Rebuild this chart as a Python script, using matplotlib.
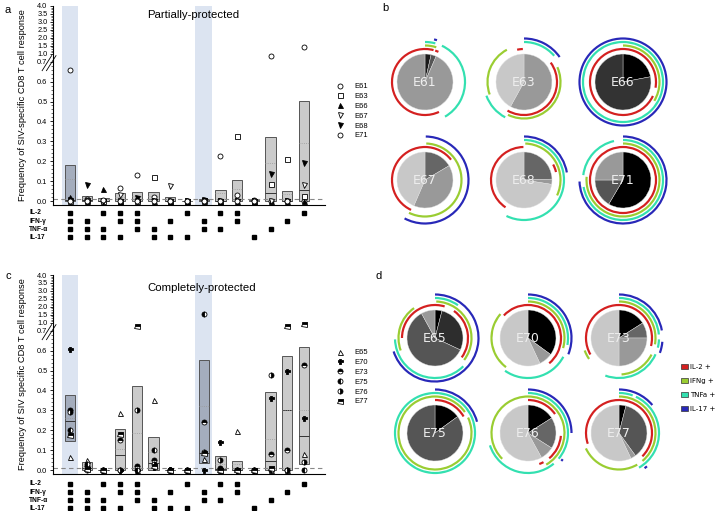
import numpy as np
import matplotlib
matplotlib.use('Agg')
import matplotlib.pyplot as plt
import matplotlib.transforms as mtransforms
from matplotlib.patches import Wedge, Patch

plt.rcParams['font.family'] = ['Liberation Sans', 'DejaVu Sans']

# ---------------- data: cytokine combinations (columns 1..15) ----------------
combos = np.arange(1, 16)
cytokines = ['IL-2', 'IFN-\u03b3', 'TNF-\u03b1', 'IL-17']
il2 = [1, 0, 1, 1, 1, 0, 0, 1, 0, 1, 1, 0, 0, 0, 1]
ifng = [1, 1, 0, 1, 1, 0, 1, 0, 1, 0, 1, 0, 0, 1, 0]
tnfa = [1, 1, 1, 0, 1, 1, 0, 0, 1, 1, 0, 0, 1, 0, 0]
il17 = [1, 1, 1, 1, 0, 1, 1, 1, 0, 0, 0, 1, 0, 0, 0]
highlight = [1, 9]

# panel a: partially-protected animals
a_names = ['E61', 'E63', 'E66', 'E67', 'E68', 'E71']
E61 = [0.657, 0.01, 0.0, 0.065, 0.13, 0.02, 0.0, 0.0, 0.005, 0.225, 0.03, 0.005, 0.0, 0.0, 0.0]
E63 = [0.0, 0.005, 0.0, 0.0, 0.0, 0.12, 0.0, 0.0, 0.005, 0.0, 0.325, 0.0, 0.085, 0.21, 0.025]
E66 = [0.02, 0.0, 0.06, 0.0, 0.01, 0.0, 0.0, 0.0, 0.0, 0.0, 0.0, 0.0, 0.0, 0.0, 0.0]
E67 = [0.0, 0.0, 0.0, 0.028, 0.0, 0.0, 0.075, 0.0, 0.0, 0.0, 0.0, 0.0, 0.0, 0.0, 0.08]
E68 = [0.005, 0.078, 0.0, 0.0, 0.015, 0.0, 0.0, 0.0, 0.005, 0.0, 0.0, 0.0, 0.135, 0.0, 0.19]
E71 = [0.0, 0.0, 0.005, 0.0, 0.0, 0.0, 0.0, 0.0, 0.0, 0.0, 0.0, 0.0, 0.92, 0.0, 1.4]
a_lo = [0.0] * 15
a_hi = [0.18, 0.025, 0.015, 0.04, 0.045, 0.045, 0.02, 0.0, 0.01, 0.055, 0.105, 0.005, 0.32, 0.05, 0.505]
a_med = [0.005, 0.003, 0.0, 0.01, 0.008, 0.01, 0.0, 0.0, 0.003, 0.0, 0.01, 0.0, 0.04, 0.0, 0.055]
a_mean = [0.11, 0.015, 0.011, 0.02, 0.025, 0.023, 0.012, 0.0, 0.003, 0.04, 0.06, 0.002, 0.19, 0.035, 0.29]

# panel c: completely-protected animals
c_names = ['E65', 'E70', 'E73', 'E75', 'E76', 'E77']
E65 = [0.065, 0.05, 0.0, 0.285, 0.0, 0.35, 0.0, 0.0, 0.055, 0.0, 0.195, 0.0, 0.0, 0.0, 0.08]
E70 = [0.61, 0.01, 0.0, 0.0, 0.0, 0.015, 0.005, 0.0, 0.0, 0.14, 0.0, 0.0, 0.36, 0.50, 0.26]
E73 = [0.30, 0.02, 0.0, 0.15, 0.02, 0.05, 0.0, 0.0, 0.24, 0.01, 0.0, 0.0, 0.08, 0.10, 0.53]
E75 = [0.20, 0.03, 0.0, 0.0, 0.0, 0.10, 0.0, 0.0, 1.55, 0.0, 0.0, 0.0, 0.0, 0.0, 0.0]
E76 = [0.29, 0.0, 0.0, 0.0, 0.30, 0.03, 0.0, 0.0, 0.09, 0.05, 0.0, 0.0, 0.48, 0.0, 0.04]
E77 = [0.175, 0.005, 0.0, 0.18, 0.86, 0.02, 0.0, 0.0, 0.085, 0.0, 0.0, 0.0, 0.01, 0.86, 0.94]
c_lo = [0.145, 0.0, 0.0, 0.0, 0.0, 0.0, 0.0, 0.0, 0.035, 0.0, 0.0, 0.0, 0.0, 0.0, 0.03]
c_hi = [0.375, 0.04, 0.0, 0.205, 0.42, 0.165, 0.0, 0.0, 0.555, 0.07, 0.045, 0.0, 0.39, 0.575, 0.62]
c_med = [0.245, 0.01, 0.0, 0.075, 0.01, 0.035, 0.0, 0.0, 0.085, 0.005, 0.0, 0.0, 0.045, 0.30, 0.17]
c_mean = [0.26, 0.02, 0.0, 0.105, 0.185, 0.09, 0.0, 0.0, 0.32, 0.03, 0.03, 0.0, 0.155, 0.30, 0.30]

threshold = 0.012

# pies (slice fractions clockwise from 12 o'clock) and arcs (start, end in degrees clockwise)
b_names = ['E61', 'E63', 'E66', 'E67', 'E68', 'E71']
b_fracs = [[0.035, 0.03, 0.935], [0.58, 0.42], [0.22, 0.78],
           [0.165, 0.40, 0.435], [0.245, 0.03, 0.725], [0.585, 0.165, 0.25]]
b_shades = [['#1a1a1a', '#555555', '#999999'], ['#999999', '#c8c8c8'], ['#000000', '#333333'],
            ['#666666', '#999999', '#c8c8c8'], ['#666666', '#999999', '#c8c8c8'],
            ['#000000', '#555555', '#999999']]
b_il2 = [[(155, 375), (18, 24)], [(348, 358), (54, 210)], [(0, 100), (115, 360)],
         [(205, 412)], [(214, 359), (62, 76)], [(0, 360)]]
b_ifng = [[(0, 18)], [(66, 206), (250, 332)], [(0, 121)], [(2, 206)], [(2, 115)], [(0, 275)]]
b_tnfa = [[(0, 15), (25, 150)], [(0, 49), (208, 250)], [(0, 360)], [], [(0, 206)], [(0, 260), (277, 347)]]
b_il17 = [[(12, 16)], [(0, 55)], [(0, 360)], [(1, 208)], [(0, 80)], [(0, 268)]]

d_names = ['E65', 'E70', 'E73', 'E75', 'E76', 'E77']
d_fracs = [[0.04, 0.28, 0.60, 0.08], [0.35, 0.08, 0.57], [0.16, 0.09, 0.25, 0.50],
           [0.15, 0.85], [0.16, 0.18, 0.08, 0.58], [0.04, 0.36, 0.03, 0.57]]
d_shades = [['#000000', '#2d2d2d', '#555555', '#999999'], ['#000000', '#999999', '#c8c8c8'],
            ['#000000', '#666666', '#999999', '#c8c8c8'], ['#000000', '#555555'],
            ['#000000', '#666666', '#999999', '#c8c8c8'], ['#000000', '#555555', '#999999', '#c8c8c8']]
d_il2 = [[(270, 377), (35, 126)], [(313, 500)], [(240, 464)], [(0, 60)],
         [(0, 55), (95, 140), (152, 160)], [(251, 495)]]
d_ifng = [[(250, 325), (2, 127)], [(217, 311), (0, 106)], [(0, 100), (117, 176), (235, 250)],
          [(0, 55), (65, 360)], [(0, 150), (225, 360)], [(0, 140), (150, 245)]]
d_tnfa = [[(0, 35), (135, 268)], [(0, 100), (118, 215)], [(0, 85), (92, 104), (114, 200)],
          [(0, 360)], [(0, 130), (140, 252)], [(0, 20), (25, 150)]]
d_il17 = [[(0, 252)], [(0, 112)], [(0, 80), (95, 110)], [(0, 75)], [(0, 90), (127, 130)], [(0, 50), (140, 144)]]

ring_colors = {'IL-2 +': '#d42020', 'IFNg +': '#9acd32', 'TNFa +': '#33e0b0', 'IL-17 +': '#2828b8'}


# ---------------- broken y scale ----------------
def fwd(y):
    y = np.asarray(y, dtype=float)
    return np.where(y <= 0.7, y, np.where(y <= 1.0, 0.7 + (y - 0.7) * 0.04 / 0.3, 0.74 + (y - 1.0) * 0.08))


def inv(t):
    t = np.asarray(t, dtype=float)
    return np.where(t <= 0.7, t, np.where(t <= 0.74, 0.7 + (t - 0.7) * 0.3 / 0.04, 1.0 + (t - 0.74) / 0.08))


fig = plt.figure(figsize=(7.16, 5.11), dpi=100)


def draw_panel(ax, names, series, styles, lo, hi, med, mean, title, tx, ty, ylabel, row0, leg_top):
    ax.set_yscale('function', functions=(fwd, inv))
    for c in highlight:
        ax.axvspan(c - 0.5, c + 0.5, color='#dce4f1', lw=0, zorder=0)
    lo = np.array(lo)
    hi = np.array(hi)
    face = ['#a4adbd' if c in highlight else '#cbcbcb' for c in combos]
    ax.bar(combos, hi - lo, bottom=lo, width=0.62, color=face, edgecolor='#555555', lw=0.7, zorder=1)
    ax.hlines(med, combos - 0.31, combos + 0.31, color='#333333', lw=0.7, zorder=2)
    ax.hlines(mean, combos - 0.31, combos + 0.31, color='#999999', lw=0.6, linestyles=':', zorder=2)
    ax.axhline(threshold, color='#888888', ls=(0, (4, 3)), lw=0.8, zorder=2)
    for name, vals, st in zip(names, series, styles):
        ax.plot(combos, vals, ls='none', ms=3.6, mec='k', mew=0.6, label=name,
                clip_on=False, zorder=3, **st)

    major = [0, 0.1, 0.2, 0.3, 0.4, 0.5, 0.6, 0.7, 1.0, 1.5, 2.0, 2.5, 3.0, 3.5, 4.0]
    ax.set_yticks(major)
    ax.set_yticklabels([f'{v:.1f}' for v in major])
    minor = list(np.arange(0, 0.69, 0.02)) + list(np.arange(1.0, 4.0, 0.1))
    ax.set_yticks(minor, minor=True)
    ax.set_ylim(-0.02, 4.0)
    ax.set_xlim(-0.02, 16.26)
    ax.set_xticks([])
    ax.tick_params(axis='y', labelsize=5.3, length=2.5, width=0.6, pad=1.5)
    ax.tick_params(axis='y', which='minor', length=1.5, width=0.4)
    for s in ['top', 'right']:
        ax.spines[s].set_visible(False)
    for s in ['left', 'bottom']:
        ax.spines[s].set_linewidth(0.8)

    # axis break marks
    tr = mtransforms.blended_transform_factory(ax.transAxes, ax.transData)
    for dx in (0.0, 0.016):
        ax.plot([-0.04 + dx, -0.005 + dx], [0.655, 0.93], color='k', lw=0.6, transform=tr, clip_on=False)

    ax.text(tx, ty, title, transform=ax.transAxes, ha='center', va='center', fontsize=8.2)
    ax.set_ylabel(ylabel, fontsize=6.7)
    ax.yaxis.set_label_coords(-0.097, 0.5)

    # combination matrix below the axis
    tr2 = mtransforms.blended_transform_factory(ax.transData, ax.transAxes)
    for i, (cname, row) in enumerate(zip(cytokines, [il2, ifng, tnfa, il17])):
        yy = row0 - i * 0.0405
        xs = combos[np.array(row) == 1]
        ax.plot(xs, [yy] * len(xs), ls='none', marker='s', color='k', ms=2.3, transform=tr2, clip_on=False)
        ax.text(-0.088, yy, cname, transform=ax.transAxes, fontsize=4.8, fontweight='bold',
                ha='left', va='center')

    ax.legend(loc='upper left', bbox_to_anchor=(336 / 716, leg_top), bbox_transform=fig.transFigure,
              frameon=False, fontsize=5.5, handlelength=1.0, handletextpad=1.4, labelspacing=0.32,
              borderpad=0, borderaxespad=0)


ax_a = fig.add_axes([53 / 716, 1 - 205 / 511, 272 / 716, 199 / 511])
a_styles = [dict(marker='o', mfc='white'), dict(marker='s', mfc='white'), dict(marker='^', mfc='black'),
            dict(marker='v', mfc='white'), dict(marker='v', mfc='black'), dict(marker='o', mfc='white')]
draw_panel(ax_a, a_names, [E61, E63, E66, E67, E68, E71], a_styles, a_lo, a_hi, a_med, a_mean,
           'Partially-protected', 0.515, 0.955, 'Frequency of SIV-specific CD8 T cell response',
           -0.040, 1 - 83 / 511)

ax_c = fig.add_axes([53 / 716, 1 - 474 / 511, 272 / 716, 199 / 511])
c_styles = [dict(marker='^', mfc='white'), dict(marker='P', mfc='black'),
            dict(marker='o', fillstyle='top', mfc='black', mfcalt='white'),
            dict(marker='o', fillstyle='left', mfc='black', mfcalt='white'),
            dict(marker='o', fillstyle='right', mfc='black', mfcalt='white'),
            dict(marker='s', fillstyle='top', mfc='black', mfcalt='white')]
draw_panel(ax_c, c_names, [E65, E70, E73, E75, E76, E77], c_styles, c_lo, c_hi, c_med, c_mean,
           'Completely-protected', 0.547, 0.935, 'Frequency of SIV specific CD8 T cell response',
           -0.050, 1 - 349 / 511)

# ---------------- pie panels ----------------
ax_p = fig.add_axes([360 / 716, 0, 356 / 716, 1])
R = 28
ring_r = [33, 36.5, 40, 43.5]


def draw_pies(names, fracs, shades, arcs_sets, centers):
    for k, (name, fr, sh) in enumerate(zip(names, fracs, shades)):
        cx, cy = centers[k]
        ax_p.pie(fr, colors=sh, startangle=90, counterclock=False, radius=R, center=(cx, cy),
                 wedgeprops=dict(linewidth=0.3, edgecolor='#dddddd'))
        for arcs, r, col in zip(arcs_sets, ring_r, ring_colors.values()):
            for a1, a2 in arcs[k]:
                ax_p.add_patch(Wedge((cx, cy), r + 1.1, 90 - a2, 90 - a1, width=2.2, color=col, lw=0))
        ax_p.text(cx, cy, name, color='#eeeeee', ha='center', va='center', fontsize=9,
                  family=['Liberation Sans Narrow', 'DejaVu Sans'])


b_centers = [(425, 429), (524, 429), (623, 429), (425, 331), (524, 331), (623, 331)]
d_centers = [(435, 173), (528, 173), (619, 173), (435, 78), (528, 78), (619, 78)]
draw_pies(b_names, b_fracs, b_shades, [b_il2, b_ifng, b_tnfa, b_il17], b_centers)
draw_pies(d_names, d_fracs, d_shades, [d_il2, d_ifng, d_tnfa, d_il17], d_centers)
ax_p.set_xlim(360, 716)
ax_p.set_ylim(0, 511)
ax_p.set_aspect('auto')
ax_p.axis('off')

handles = [Patch(facecolor=c, edgecolor='#333333', lw=0.5, label=l) for l, c in ring_colors.items()]
fig.legend(handles=handles, loc='upper left', bbox_to_anchor=(681 / 716, 1 - 364 / 511),
           frameon=False, handlelength=1.0, handleheight=0.8, handletextpad=0.3,
           labelspacing=1.15, borderpad=0, borderaxespad=0, prop={'family': 'DejaVu Sans', 'size': 5})

for lab, x, y in [('a', 8, 10), ('b', 385, 8), ('c', 8, 276), ('d', 379, 276)]:
    fig.text(x / 716, 1 - y / 511, lab, fontsize=8, ha='center', va='center')

fig.savefig('out.png', dpi=100)
